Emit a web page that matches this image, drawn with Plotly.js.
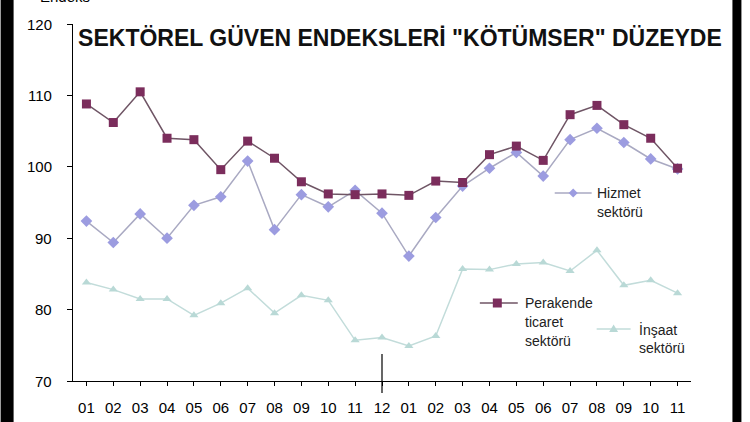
<!DOCTYPE html>
<html>
<head>
<meta charset="utf-8">
<script src="https://cdn.plot.ly/plotly-3.0.1.min.js"></script>
<style>html,body{margin:0;padding:0;background:#fff;}#chart{width:750px;height:422px;}</style>
</head>
<body>
<div id="chart"></div>
<script>
const months = ['2016-01','2016-02','2016-03','2016-04','2016-05','2016-06','2016-07','2016-08','2016-09','2016-10','2016-11','2016-12',
                '2017-01','2017-02','2017-03','2017-04','2017-05','2017-06','2017-07','2017-08','2017-09','2017-10','2017-11'];
const tickLabels = ['01','02','03','04','05','06','07','08','09','10','11','12','01','02','03','04','05','06','07','08','09','10','11'];
const perakende = [108.8,106.2,110.5,104.0,103.8,99.6,103.6,101.2,97.9,96.2,96.1,96.2,96.0,98.0,97.8,101.7,102.9,100.9,107.3,108.6,105.9,104.0,99.8];
const hizmet    = [92.4,89.4,93.4,90.0,94.6,95.8,100.8,91.2,96.1,94.4,96.7,93.5,87.5,92.9,97.3,99.8,102.0,98.7,103.8,105.4,103.4,101.1,99.7];
const insaat    = [83.8,82.8,81.5,81.5,79.2,80.9,83.0,79.5,82.0,81.3,75.7,76.1,74.9,76.3,85.7,85.6,86.4,86.6,85.4,88.3,83.4,84.1,82.3];
const yTicks = [70, 80, 90, 100, 110, 120];
const yearLabels = ['2016','2017'];

// pixel -> paper helpers (plot area: x 72.5..691.5, y 24..381)
const L = 72.5, R = 691.5, T = 24, B = 381;
const px = p => (p - L) / (R - L);
const py = p => (B - p) / (B - T);

const FONT = 'Liberation Sans, Arial, sans-serif';
const colP = '#7b2d5c', colPL = '#6f5565';
const colH = '#9c9ce0', colHL = '#a9a9c2';
const colI = '#b9d9d6', colIL = '#c2dcda';

const traces = [
  {x: months, y: hizmet, type: 'scatter', mode: 'lines+markers', name: 'Hizmet sektörü',
   line: {color: colHL, width: 1.5}, marker: {symbol: 'diamond', size: 9, color: colH}},
  {x: months, y: insaat, type: 'scatter', mode: 'lines+markers', name: 'İnşaat sektörü',
   line: {color: colIL, width: 1.5}, marker: {symbol: 'triangle-up', size: 8, color: colI}},
  {x: months, y: perakende, type: 'scatter', mode: 'lines+markers', name: 'Perakende ticaret sektörü',
   line: {color: colPL, width: 1.5}, marker: {symbol: 'square', size: 9, color: colP}}
];

const shapes = [
  // black frame bars
  {type: 'rect', xref: 'paper', yref: 'paper', x0: px(0), x1: px(13), y0: py(430), y1: py(-10), fillcolor: '#000', line: {width: 0}},
  {type: 'rect', xref: 'paper', yref: 'paper', x0: px(733), x1: px(742), y0: py(430), y1: py(-10), fillcolor: '#000', line: {width: 0}},
  // year separator
  {type: 'line', xref: 'x', yref: 'paper', x0: '2016-12', x1: '2016-12', y0: py(393), y1: py(354), line: {color: '#000', width: 1.2}},
  // legend samples
  {type: 'line', xref: 'paper', yref: 'paper', x0: px(555), x1: px(592), y0: py(193), y1: py(193), line: {color: colHL, width: 1.5}},
  {type: 'path', xref: 'paper', yref: 'paper',
   path: `M ${px(573.5)} ${py(188.5)} L ${px(578)} ${py(193)} L ${px(573.5)} ${py(197.5)} L ${px(569)} ${py(193)} Z`,
   fillcolor: colH, line: {width: 0}},
  {type: 'line', xref: 'paper', yref: 'paper', x0: px(480), x1: px(518), y0: py(303), y1: py(303), line: {color: colPL, width: 1.5}},
  {type: 'rect', xref: 'paper', yref: 'paper', x0: px(493), x1: px(502), y0: py(307.5), y1: py(298.5), fillcolor: colP, line: {width: 0}},
  {type: 'line', xref: 'paper', yref: 'paper', x0: px(597), x1: px(631), y0: py(329), y1: py(329), line: {color: colIL, width: 1.5}},
  {type: 'path', xref: 'paper', yref: 'paper',
   path: `M ${px(614)} ${py(324.5)} L ${px(618.5)} ${py(332)} L ${px(609.5)} ${py(332)} Z`,
   fillcolor: colI, line: {width: 0}}
];

const legText = (t, x, y) => ({text: t, xref: 'paper', yref: 'paper', x: px(x), y: py(y), xanchor: 'left', yanchor: 'middle',
  showarrow: false, font: {family: FONT, size: 14, color: '#222'}});

const annotations = [
  {text: 'Endeks', xref: 'paper', yref: 'paper', x: px(37), y: py(7), xanchor: 'left', yanchor: 'bottom', showarrow: false,
   font: {family: FONT, size: 15, color: '#000'}},
  legText('Hizmet', 595, 193), legText('sektörü', 595, 212),
  legText('Perakende', 523, 303), legText('ticaret', 523, 322), legText('sektörü', 523, 341),
  legText('İnşaat', 637, 329), legText('sektörü', 637, 348),
  {text: yearLabels[0], xref: 'paper', yref: 'paper', x: px(252), y: py(419), xanchor: 'center', yanchor: 'top', showarrow: false,
   font: {family: FONT, size: 15, color: '#000'}},
  {text: yearLabels[1], xref: 'paper', yref: 'paper', x: px(522), y: py(419), xanchor: 'center', yanchor: 'top', showarrow: false,
   font: {family: FONT, size: 15, color: '#000'}}
];

// y tick labels drawn as text at their axis values, right-aligned at x = 53 px
yTicks.forEach(v => annotations.push({text: String(v), xref: 'paper', yref: 'y', x: px(53), y: v,
  xanchor: 'right', yanchor: 'middle', showarrow: false, font: {family: FONT, size: 15, color: '#000'}}));

const layout = {
  width: 750, height: 422,
  margin: {l: L, r: 750 - R, t: T, b: 422 - B, pad: 0},
  paper_bgcolor: '#fff', plot_bgcolor: '#fff',
  showlegend: false,
  title: {text: 'SEKTÖREL GÜVEN ENDEKSLERİ "KÖTÜMSER" DÜZEYDE', xref: 'paper', yref: 'container',
          x: px(400), xanchor: 'center', y: 1 - 38/422, yanchor: 'middle',
          font: {family: FONT, size: 23, color: '#111', weight: 'bold'}},
  xaxis: {type: 'category', range: [-0.5, 22.5], tickvals: months, ticktext: tickLabels,
          showline: true, linecolor: '#000', linewidth: 1.2, showgrid: false, zeroline: false,
          ticks: 'outside', ticklen: 4, tickcolor: '#000', ticklabelstandoff: 9,
          tickfont: {family: FONT, size: 15, color: '#000'}},
  yaxis: {range: [70, 120], tickvals: yTicks, showticklabels: false,
          showline: true, linecolor: '#000', linewidth: 1.2, showgrid: false, zeroline: false,
          ticks: 'outside', ticklen: 5, tickcolor: '#000'},
  shapes: shapes,
  annotations: annotations
};

Plotly.newPlot('chart', traces, layout, {staticPlot: true, displayModeBar: false});
</script>
</body>
</html>
